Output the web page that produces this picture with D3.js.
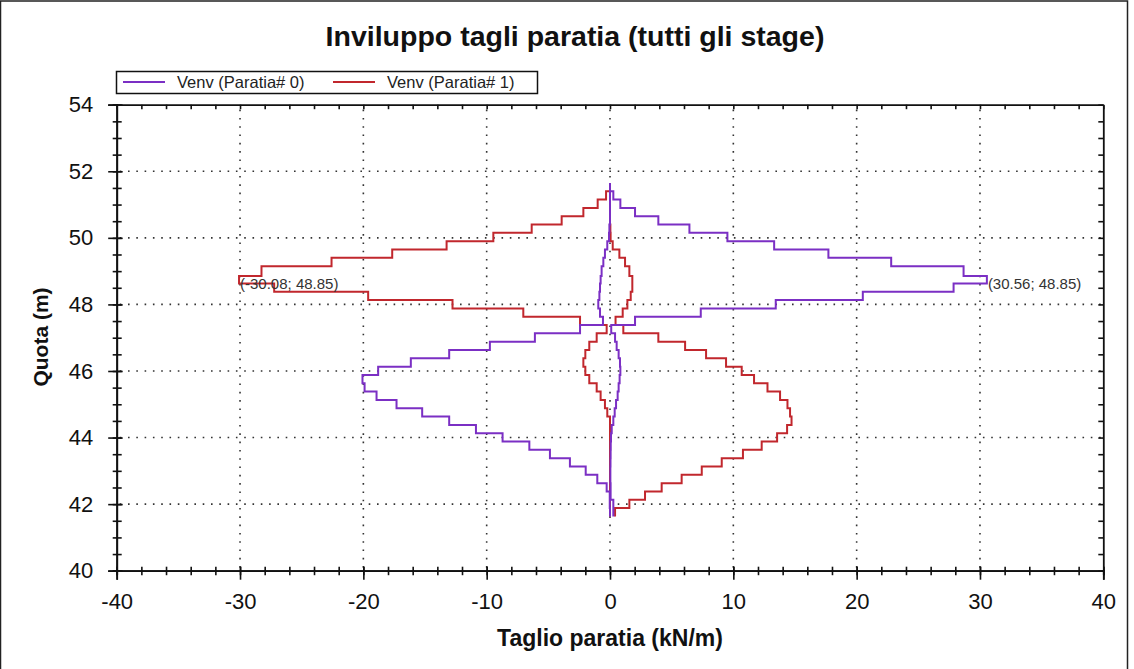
<!DOCTYPE html>
<html>
<head>
<meta charset="utf-8">
<script src="https://cdn.jsdelivr.net/npm/d3@7"></script>
<style>
  body { margin: 0; background: #fff; }
  svg { display: block; font-family: "Liberation Sans", Arial, sans-serif; }
</style>
</head>
<body>
<div id="chart"></div>
<script>
// Depth levels (m) bounding each step, top to bottom
const levels = [51.65, 51.4, 51.15, 50.9, 50.65, 50.4, 50.15, 49.9, 49.65, 49.4, 49.15,
  48.85, 48.63, 48.38, 48.13, 47.88, 47.63, 47.38, 47.13, 46.88, 46.63, 46.38, 46.13,
  45.88, 45.63, 45.38, 45.13, 44.88, 44.63, 44.38, 44.13, 43.88, 43.63, 43.38, 43.13,
  42.88, 42.63, 42.38, 42.13, 41.88, 41.63];

// Shear envelope (kN/m), one value per step
const wall0Max = [0, 0.27, 0.84, 2.03, 3.92, 6.44, 9.52, 13.31, 17.71, 22.8, 28.67,
  30.56, 27.86, 20.5, 13.44, 7.36, 2.03, 0.1, 0.41, 0.54, 0.7, 0.81, 0.84, 0.78, 0.7,
  0.62, 0.49, 0.38, 0.27, 0.14, 0.08, 0.06, 0.05, 0.04, 0.03, 0.03, 0.05, 0.05, 0.27, 0.27];
const wall0Min = [0, 0, 0, 0, 0, -0.05, -0.08, -0.22, -0.41, -0.54, -0.68,
  -0.76, -0.81, -0.86, -0.95, -0.81, -0.57, -2.43, -6.09, -9.74, -13.04, -16.15, -18.8,
  -20.07, -19.9, -18.93, -17.31, -15.23, -13.04, -10.87, -8.71, -6.54, -4.87, -3.25,
  -1.97, -1.03, -0.27, -0.02, -0.02, 0];
const wall1Max = [0, 0, 0, 0, 0, 0.03, 0.05, 0.22, 0.76, 1.22, 1.57,
  1.81, 1.81, 1.68, 1.41, 1.03, 0.45, 1.08, 3.92, 6.09, 7.79, 9.41, 10.68, 11.68, 12.77,
  13.79, 14.39, 14.6, 14.72, 14.36, 13.55, 12.3, 10.78, 9.06, 7.44, 5.81, 4.19, 2.84, 1.57, 0.41];
const wall1Min = [0, -0.32, -1.0, -2.16, -3.92, -6.35, -9.46, -13.25, -17.66, -22.58, -28.26,
  -30.08, -27.23, -19.61, -12.77, -7.03, -2.43, -0.27, -1.08, -1.68, -2.0, -2.16, -2.0,
  -1.68, -1.08, -0.76, -0.41, -0.22, 0, 0, 0, 0, 0, 0, 0, 0, 0, 0, 0, 0];

const seriesNames = ["Venv (Paratia# 0)", "Venv (Paratia# 1)"];
const seriesColors = ["#7b2fc4", "#c1272d"];

// Peak annotations
const peakValues = [-30.08, 30.56];
const peakDepths = [48.85, 48.85];

const xTicks = [-40, -30, -20, -10, 0, 10, 20, 30, 40];
const yTicks = [40, 42, 44, 46, 48, 50, 52, 54];

const W = 1134, H = 669;
const plot = { left: 116.7, right: 1103.3, top: 104.7, bottom: 570.7 };

const svg = d3.select("#chart").append("svg")
  .attr("width", W)
  .attr("height", H);

// outer frame
svg.append("rect")
  .attr("x", 0.5).attr("y", 1)
  .attr("width", 1127).attr("height", H + 5)
  .attr("fill", "none")
  .attr("stroke", "#222")
  .attr("stroke-width", 1.5);

const x = d3.scaleLinear().domain([-40, 40]).range([plot.left, plot.right]);
const y = d3.scaleLinear().domain([40, 54]).range([plot.bottom, plot.top]);

// dotted grid
const grid = svg.append("g")
  .attr("stroke", "#333")
  .attr("stroke-width", 1.6)
  .attr("stroke-dasharray", "1.6 6.7");
grid.selectAll(".gx")
  .data(xTicks.slice(1, -1))
  .enter().append("line")
  .attr("x1", d => x(d)).attr("x2", d => x(d))
  .attr("y1", plot.bottom - 3).attr("y2", plot.top);
grid.selectAll(".gy")
  .data(yTicks.slice(1, -1))
  .enter().append("line")
  .attr("x1", plot.left + 3).attr("x2", plot.right)
  .attr("y1", d => y(d)).attr("y2", d => y(d));

// minor ticks
const xMinor = x.ticks(40);
const yMinor = y.ticks(28);
const plain = d => String(d);

// bottom axis
const gBottom = svg.append("g")
  .attr("transform", "translate(0," + plot.bottom + ")")
  .call(d3.axisBottom(x).tickValues(xTicks).tickSize(9).tickPadding(14).tickFormat(plain));
gBottom.selectAll(".tick line").attr("y1", -4);
const gBottomMinor = svg.append("g")
  .attr("transform", "translate(0," + plot.bottom + ")")
  .call(d3.axisBottom(x).tickValues(xMinor).tickSize(4.5).tickFormat(""));
gBottomMinor.selectAll(".tick line").attr("y1", -4);

// left axis
const gLeft = svg.append("g")
  .attr("transform", "translate(" + plot.left + ",0)")
  .call(d3.axisLeft(y).tickValues(yTicks).tickSize(8.5).tickPadding(15).tickFormat(plain));
gLeft.selectAll(".tick line").attr("x1", 6);
const gLeftMinor = svg.append("g")
  .attr("transform", "translate(" + plot.left + ",0)")
  .call(d3.axisLeft(y).tickValues(yMinor).tickSize(4).tickFormat(""));
gLeftMinor.selectAll(".tick line").attr("x1", 5);

// top and right axes, ticks pointing inward
svg.append("g")
  .attr("transform", "translate(0," + plot.top + ")")
  .call(d3.axisTop(x).tickValues(xMinor).tickSizeInner(-4.5).tickSizeOuter(0).tickFormat(""));
svg.append("g")
  .attr("transform", "translate(" + plot.right + ",0)")
  .call(d3.axisRight(y).tickValues(yMinor).tickSizeInner(-5).tickSizeOuter(0).tickFormat(""));

svg.selectAll(".domain").attr("stroke", "#111").attr("stroke-width", 1.8);
svg.selectAll(".tick line").attr("stroke", "#111").attr("stroke-width", 1.6);
svg.selectAll(".tick text")
  .attr("font-family", "Liberation Sans, Arial, sans-serif")
  .attr("font-size", 22)
  .attr("fill", "#111");

// step profiles
const stepPoints = vals => {
  const pts = [];
  vals.forEach((v, i) => {
    pts.push([v, levels[i]]);
    pts.push([v, levels[i + 1]]);
  });
  return pts;
};
const line = d3.line().x(d => x(d[0])).y(d => y(d[1]));

const profiles = [
  { vals: wall1Max, s: 1 }, { vals: wall1Min, s: 1 },
  { vals: wall0Max, s: 0 }, { vals: wall0Min, s: 0 }
];
svg.selectAll(".profile")
  .data(profiles)
  .enter().append("path")
  .attr("class", "profile")
  .attr("d", d => line(stepPoints(d.vals)))
  .attr("fill", "none")
  .attr("stroke", d => seriesColors[d.s])
  .attr("stroke-width", 2)
  .attr("stroke-linejoin", "miter");

// peak labels
svg.selectAll(".peak")
  .data(peakValues)
  .enter().append("text")
  .attr("x", d => x(d) + 1)
  .attr("y", (d, i) => y(peakDepths[i]) + 13)
  .attr("font-size", 15)
  .attr("fill", "#333")
  .text((d, i) => "(" + d.toFixed(2) + "; " + peakDepths[i].toFixed(2) + ")");

// title
svg.append("text")
  .attr("x", 575).attr("y", 46)
  .attr("text-anchor", "middle")
  .attr("font-size", 28.5)
  .attr("font-weight", "bold")
  .attr("fill", "#111")
  .text("Inviluppo tagli paratia (tutti gli stage)");

// axis titles
svg.append("text")
  .attr("x", 610).attr("y", 646)
  .attr("text-anchor", "middle")
  .attr("font-size", 23)
  .attr("font-weight", "bold")
  .attr("fill", "#111")
  .text("Taglio paratia (kN/m)");

svg.append("text")
  .attr("transform", "translate(48,337) rotate(-90)")
  .attr("text-anchor", "middle")
  .attr("font-size", 21)
  .attr("font-weight", "bold")
  .attr("fill", "#111")
  .text("Quota (m)");

// legend
const legend = svg.append("g");
legend.append("rect")
  .attr("x", 116.5).attr("y", 71.5)
  .attr("width", 421).attr("height", 22)
  .attr("fill", "#fff")
  .attr("stroke", "#111")
  .attr("stroke-width", 1.5);
const legendX = [123, 333];
const items = legend.selectAll(".item")
  .data(seriesNames)
  .enter().append("g")
  .attr("transform", (d, i) => "translate(" + legendX[i] + ",82)");
items.append("line")
  .attr("x1", 0).attr("x2", 42)
  .attr("stroke", (d, i) => seriesColors[i])
  .attr("stroke-width", 2);
items.append("text")
  .attr("x", 54).attr("dy", "0.35em")
  .attr("font-size", 16.5)
  .attr("fill", "#222")
  .text(d => d);
</script>
</body>
</html>
